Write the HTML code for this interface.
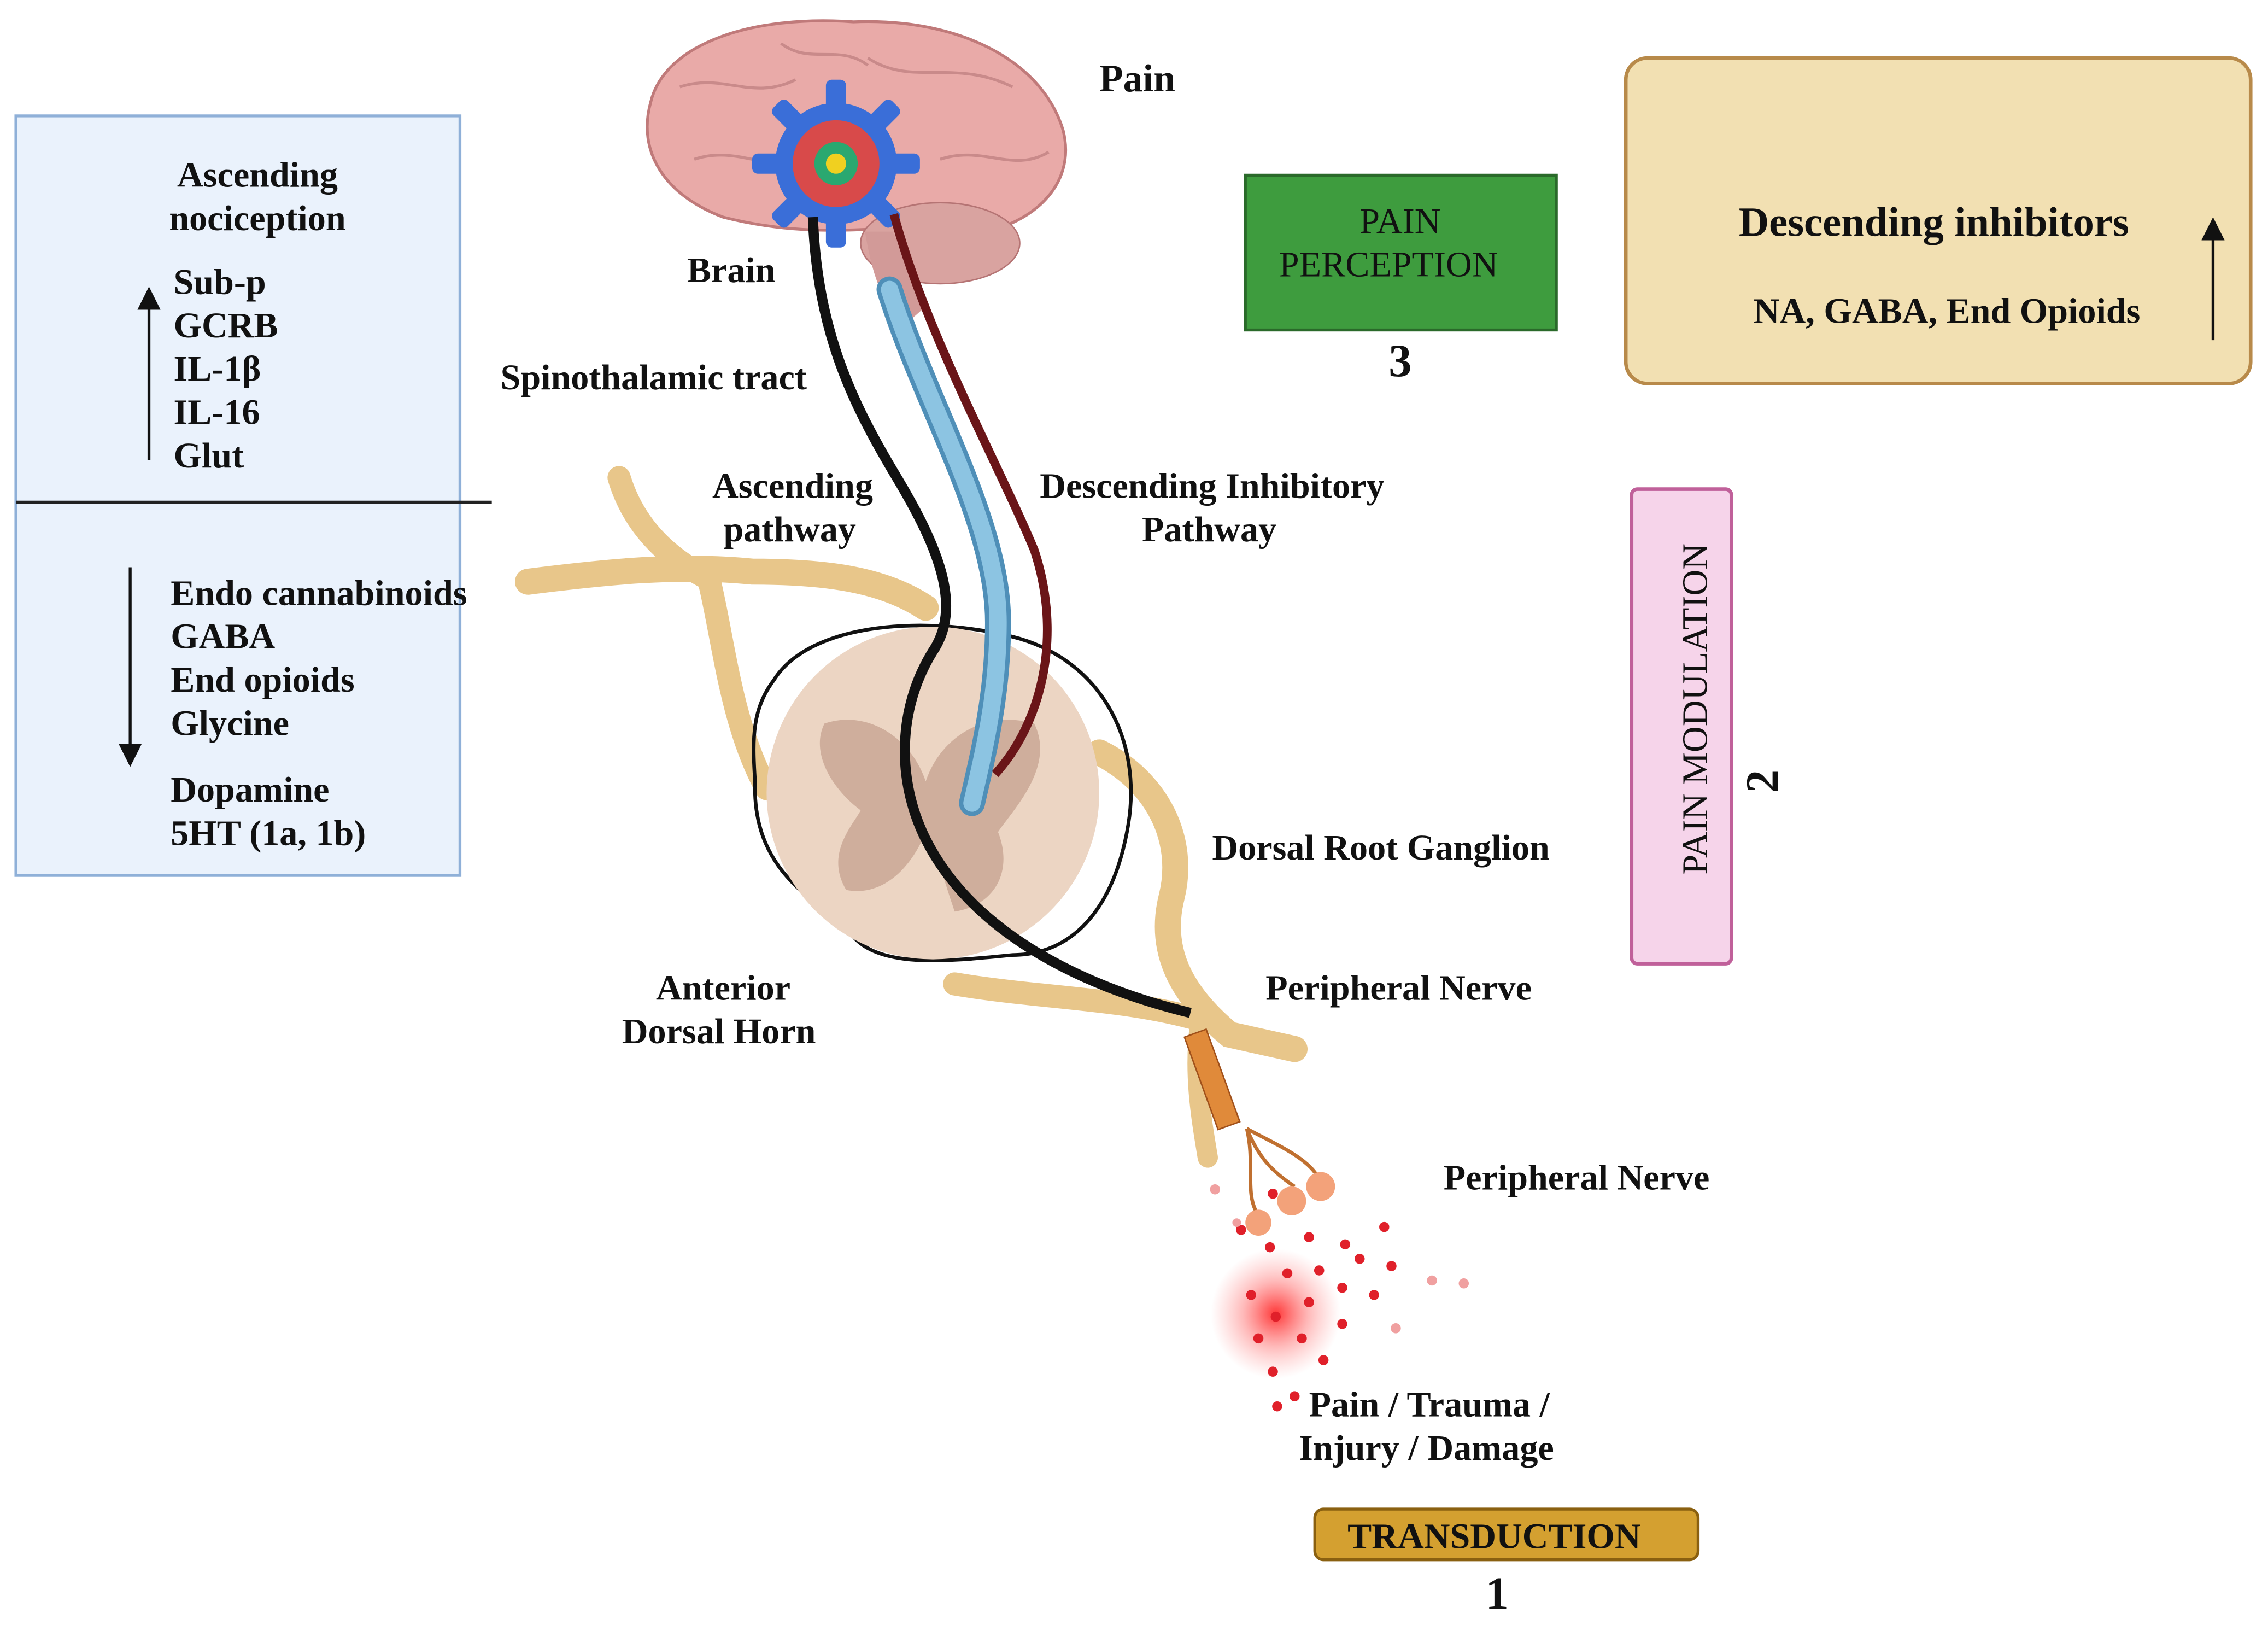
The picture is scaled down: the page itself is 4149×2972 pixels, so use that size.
<!DOCTYPE html>
<html><head><meta charset="utf-8"><style>
html,body{margin:0;padding:0;background:#fff;}
svg{display:block;}
text{font-family:"Liberation Serif",serif;font-weight:bold;fill:#111;}
</style></head><body>
<svg width="4149" height="2972" viewBox="0 0 1568 1123" xmlns="http://www.w3.org/2000/svg">
<defs>
<marker id="ah" markerWidth="8" markerHeight="8" refX="4" refY="4" orient="auto"><path d="M0,0 L8,4 L0,8 z" fill="#111"/></marker>
<radialGradient id="glow"><stop offset="0" stop-color="#ff2020" stop-opacity="0.9"/><stop offset="0.5" stop-color="#ff5050" stop-opacity="0.4"/><stop offset="1" stop-color="#ff8080" stop-opacity="0"/></radialGradient>
</defs>
<rect x="11" y="80" width="307" height="525" fill="#eaf2fc" stroke="#8fb0d8" stroke-width="2"/>
<line x1="11" y1="347" x2="340" y2="347" stroke="#222" stroke-width="2"/>
<text x="178" y="129" font-size="25" text-anchor="middle">Ascending</text>
<text x="178" y="159" font-size="25" text-anchor="middle">nociception</text>
<g font-size="25"><text x="120" y="203">Sub-p</text><text x="120" y="233">GCRB</text><text x="120" y="263">IL-1β</text><text x="120" y="293">IL-16</text><text x="120" y="323">Glut</text>
<text x="118" y="418">Endo cannabinoids</text><text x="118" y="448">GABA</text><text x="118" y="478">End opioids</text><text x="118" y="508">Glycine</text><text x="118" y="554">Dopamine</text><text x="118" y="584">5HT (1a, 1b)</text></g>
<line x1="103" y1="318" x2="103" y2="206" stroke="#111" stroke-width="2" marker-end="url(#ah)"/>
<line x1="90" y1="392" x2="90" y2="522" stroke="#111" stroke-width="2" marker-end="url(#ah)"/>
<g fill="none" stroke="#e8c68a" stroke-linecap="round">
<path d="M365,402 C420,395 470,390 520,395 C570,395 610,400 640,420" stroke-width="18"/>
<path d="M428,330 C440,370 470,390 490,400 C500,440 505,500 530,545" stroke-width="16"/>
<path d="M760,520 C800,540 820,580 810,620 C800,660 820,690 850,715 L895,725" stroke-width="18"/>
<path d="M660,680 C720,690 780,690 830,705" stroke-width="16"/>
<path d="M830,705 C825,740 830,770 835,800" stroke-width="14"/>
</g>
<path d="M535,470 C560,430 640,425 700,440 C760,455 790,510 780,570 C770,630 740,660 700,660 C650,665 600,670 585,640 C560,620 520,600 522,540 C520,510 520,490 535,470 Z" fill="none" stroke="#111" stroke-width="2.5"/>
<circle cx="645" cy="548" r="115" fill="#ecd5c3"/>
<path d="M570,500 C600,490 630,510 640,540 C650,510 680,490 715,500 C730,530 700,560 690,575 C700,600 690,625 660,630 C650,600 645,580 640,575 C630,600 610,620 585,615 C570,590 590,570 595,560 C575,545 560,520 570,500 Z" fill="#cfae9c"/>
<path d="M450,70 C460,30 520,10 590,15 C660,12 720,40 735,90 C745,130 710,155 680,160 C660,165 640,160 610,158 C570,160 540,160 500,150 C460,135 440,105 450,70 Z" fill="#e9aaa8" stroke="#c07a7a" stroke-width="2"/>
<ellipse cx="650" cy="168" rx="55" ry="28" fill="#d9a3a0" stroke="#b57474"/>
<path d="M598,160 C603,190 610,210 625,225 L642,210 C632,190 622,170 617,160 Z" fill="#d29a98"/>
<g stroke="#c98a8a" stroke-width="2" fill="none"><path d="M470,60 C500,50 520,70 550,55"/><path d="M600,40 C630,60 660,40 700,60"/><path d="M480,110 C510,100 530,120 560,110"/><path d="M650,110 C680,100 700,120 725,105"/><path d="M540,30 C560,45 580,30 600,45"/></g>
<g fill="#3a6ed8">
<circle cx="578" cy="113" r="42"/>
<g transform="translate(578,113)">
<rect x="-7" y="-58" width="14" height="20" rx="4"/><rect x="-7" y="-58" width="14" height="20" rx="4" transform="rotate(45)"/><rect x="-7" y="-58" width="14" height="20" rx="4" transform="rotate(90)"/><rect x="-7" y="-58" width="14" height="20" rx="4" transform="rotate(135)"/><rect x="-7" y="-58" width="14" height="20" rx="4" transform="rotate(180)"/><rect x="-7" y="-58" width="14" height="20" rx="4" transform="rotate(225)"/><rect x="-7" y="-58" width="14" height="20" rx="4" transform="rotate(270)"/><rect x="-7" y="-58" width="14" height="20" rx="4" transform="rotate(315)"/>
</g></g>
<circle cx="578" cy="113" r="30" fill="#d84a4a"/>
<circle cx="578" cy="113" r="15" fill="#2aa870"/>
<circle cx="578" cy="113" r="7" fill="#f0d020"/>
<path d="M615,200 C640,280 690,360 690,430 C690,480 680,520 672,555" fill="none" stroke="#4f8fb8" stroke-width="18" stroke-linecap="round"/>
<path d="M615,200 C640,280 690,360 690,430 C690,480 680,520 672,555" fill="none" stroke="#8cc4e2" stroke-width="12" stroke-linecap="round"/>
<path d="M618,148 C640,230 690,320 715,380 C735,440 720,500 688,535" fill="none" stroke="#6a1518" stroke-width="6"/>
<path d="M562,150 C565,230 590,280 620,330 C650,380 665,420 645,450 C620,490 620,540 640,580 C670,640 740,680 823,700" fill="none" stroke="#111" stroke-width="7"/>
<rect x="830" y="712" width="16" height="68" fill="#e08a3a" stroke="#a0501a" transform="rotate(-20 838 746)"/>
<g fill="none" stroke="#c07030" stroke-width="2.5"><path d="M862,780 C870,800 880,810 895,820"/><path d="M862,780 C868,805 860,825 870,840"/><path d="M862,780 C880,790 905,800 912,815"/></g>
<g fill="#f3a27a"><circle cx="893" cy="830" r="10"/><circle cx="913" cy="820" r="10"/><circle cx="870" cy="845" r="9"/></g>
<circle cx="882" cy="908" r="45" fill="url(#glow)"/>
<g fill="#e0202a">
<circle cx="880" cy="825" r="3.5"/><circle cx="858" cy="850" r="3.5"/><circle cx="878" cy="862" r="3.5"/><circle cx="905" cy="855" r="3.5"/><circle cx="930" cy="860" r="3.5"/><circle cx="957" cy="848" r="3.5"/><circle cx="940" cy="870" r="3.5"/><circle cx="912" cy="878" r="3.5"/><circle cx="890" cy="880" r="3.5"/><circle cx="865" cy="895" r="3.5"/><circle cx="905" cy="900" r="3.5"/><circle cx="928" cy="890" r="3.5"/><circle cx="950" cy="895" r="3.5"/><circle cx="882" cy="910" r="3.5"/><circle cx="928" cy="915" r="3.5"/><circle cx="900" cy="925" r="3.5"/><circle cx="870" cy="925" r="3.5"/><circle cx="915" cy="940" r="3.5"/><circle cx="880" cy="948" r="3.5"/><circle cx="895" cy="965" r="3.5"/><circle cx="883" cy="972" r="3.5"/><circle cx="962" cy="875" r="3.5"/>
</g>
<g fill="#f0a0a0"><circle cx="840" cy="822" r="3.5"/><circle cx="990" cy="885" r="3.5"/><circle cx="1012" cy="887" r="3.5"/><circle cx="965" cy="918" r="3.5"/><circle cx="855" cy="845" r="3"/></g>
<g font-size="25">
<text x="760" y="63" font-size="27">Pain</text>
<text x="475" y="195">Brain</text>
<text x="346" y="269">Spinothalamic tract</text>
<text x="548" y="344" text-anchor="middle">Ascending</text>
<text x="546" y="374" text-anchor="middle">pathway</text>
<text x="838" y="344" text-anchor="middle">Descending Inhibitory</text>
<text x="836" y="374" text-anchor="middle">Pathway</text>
<text x="838" y="594">Dorsal Root Ganglion</text>
<text x="875" y="691">Peripheral Nerve</text>
<text x="500" y="691" text-anchor="middle">Anterior</text>
<text x="497" y="721" text-anchor="middle">Dorsal Horn</text>
<text x="998" y="822">Peripheral  Nerve</text>
<text x="905" y="979">Pain / Trauma /</text>
<text x="898" y="1009">Injury / Damage</text>
</g>
<rect x="861" y="121" width="215" height="107" fill="#3e9c3e" stroke="#2a6a2a" stroke-width="2"/>
<text x="968" y="161" font-size="25" text-anchor="middle" style="font-weight:normal">PAIN</text>
<text x="960" y="191" font-size="25" text-anchor="middle" style="font-weight:normal">PERCEPTION</text>
<text x="968" y="260" font-size="32" text-anchor="middle">3</text>
<rect x="1124" y="40" width="432" height="225" rx="15" fill="#f2e0b2" stroke="#b88a4a" stroke-width="2.5"/>
<text x="1337" y="163" font-size="29" text-anchor="middle">Descending inhibitors</text>
<text x="1346" y="223" font-size="25" text-anchor="middle">NA, GABA, End Opioids</text>
<line x1="1530" y1="235" x2="1530" y2="158" stroke="#111" stroke-width="2" marker-end="url(#ah)"/>
<rect x="1128" y="338" width="69" height="328" rx="4" fill="#f6d4ea" stroke="#c0609a" stroke-width="2.5"/>
<text transform="translate(1180,490) rotate(-90)" font-size="25" text-anchor="middle" style="font-weight:normal">PAIN MODULATION</text>
<text transform="translate(1229,540) rotate(-90)" font-size="32" text-anchor="middle">2</text>
<rect x="909" y="1043" width="265" height="35" rx="6" fill="#d4a030" stroke="#8a6010" stroke-width="2"/>
<text x="1033" y="1070" font-size="25" text-anchor="middle">TRANSDUCTION</text>
<text x="1035" y="1112" font-size="32" text-anchor="middle">1</text>
</svg>
</body></html>
